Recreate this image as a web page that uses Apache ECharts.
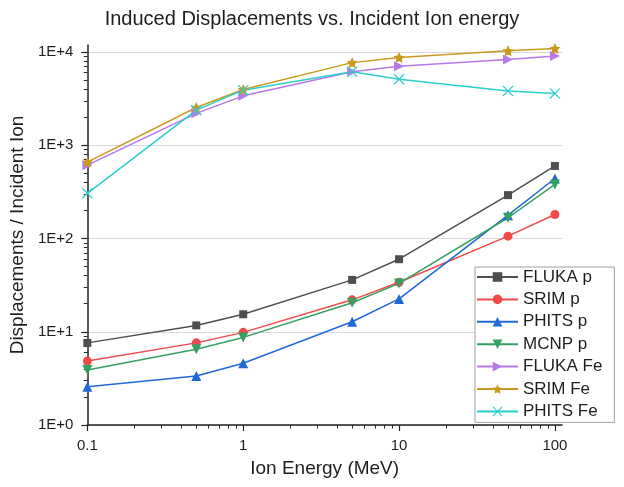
<!DOCTYPE html>
<html>
<head>
<meta charset="utf-8">
<script src="https://cdn.jsdelivr.net/npm/echarts@6/dist/echarts.min.js"></script>
<style>
  html, body { margin: 0; padding: 0; background: #fff; }
  #chart { width: 624px; height: 487px; }
</style>
</head>
<body>
<div id="chart"></div>
<script>
// ion energies (MeV)
const energies = [0.1, 0.5, 1, 5, 10, 50, 100]

const flukaP = [7.6, 11.7, 15.4, 36, 60, 292, 600]
const srimP = [4.85, 7.6, 9.85, 22, 34, 106, 181]
const phitsP = [2.57, 3.35, 4.6, 12.8, 22.5, 178, 440]
const mcnpP = [3.9, 6.5, 8.7, 20.5, 33, 167, 380]
const flukaFe = [612, 2200, 3390, 6150, 7050, 8300, 9050]
const srimFe = [660, 2540, 3960, 7700, 8750, 10300, 10900]
const phitsFe = [305, 2380, 3900, 6150, 5120, 3830, 3600]

const xMajor = [0.1, 1, 10, 100]
const yMajor = [1, 10, 100, 1000, 10000]

const xMinor = []
for (const d of [0.1, 1, 10]) {
  for (let k = 2; k < 10; k++) xMinor.push(+(d * k).toPrecision(3))
}
const yMinor = []
for (const d of [1, 10, 100, 1000]) {
  for (let k = 2; k < 10; k++) yMinor.push(d * k)
}

const starPath = 'path://M0,-10L2.9,-4L9.5,-3.1L4.7,1.5L5.9,8.1L0,5L-5.9,8.1L-4.7,1.5L-9.5,-3.1L-2.9,-4Z'
const crossPath = 'path://M-5,-4.2L-4.2,-5L0,-0.8L4.2,-5L5,-4.2L0.8,0L5,4.2L4.2,5L0,0.8L-4.2,5L-5,4.2L-0.8,0Z'

const seriesDefs = [
  { name: 'FLUKA p', data: flukaP, color: '#4f4f4f', symbol: 'rect', size: 8, rotate: 0 },
  { name: 'SRIM p', data: srimP, color: '#f24a4a', symbol: 'circle', size: 9, rotate: 0 },
  { name: 'PHITS p', data: phitsP, color: '#2168d8', symbol: 'triangle', size: 10, rotate: 0 },
  { name: 'MCNP p', data: mcnpP, color: '#34a062', symbol: 'triangle', size: 10, rotate: 180 },
  { name: 'FLUKA Fe', data: flukaFe, color: '#b878ea', symbol: 'triangle', size: 10, rotate: -90 },
  { name: 'SRIM Fe', data: srimFe, color: '#c99a1e', symbol: starPath, size: 11, rotate: 0 },
  { name: 'PHITS Fe', data: phitsFe, color: '#2ccfcf', symbol: crossPath, size: 11, rotate: 0 },
]

const font = "'Liberation Sans', Arial, sans-serif"
const txt = '#1e1e1e'

const chart = echarts.init(document.getElementById('chart'))

const logAxis = (min, max) => ({
  type: 'log',
  logBase: 10,
  min: min,
  max: max,
})

chart.setOption({
  animation: false,
  backgroundColor: '#fff',
  title: {
    text: 'Induced Displacements vs. Incident Ion energy',
    left: 'center',
    top: 4,
    textStyle: { fontFamily: font, fontSize: 20, fontWeight: 'normal', color: txt },
  },
  grid: { left: 86, right: 62, top: 45, bottom: 62 },
  legend: {
    orient: 'vertical',
    left: 475,
    top: 267,
    padding: [1, 12, 2, 1],
    itemWidth: 41,
    itemHeight: 12,
    itemGap: 4.4,
    backgroundColor: '#fff',
    borderColor: '#a0a0a0',
    borderWidth: 1,
    borderRadius: 0,
    textStyle: { fontFamily: font, fontSize: 17, lineHeight: 18, color: txt },
    data: seriesDefs.map(s => s.name),
  },
  xAxis: [
    Object.assign(logAxis(0.1, 111), {
      name: 'Ion Energy (MeV)',
      nameLocation: 'middle',
      nameGap: 34,
      nameTextStyle: { fontFamily: font, fontSize: 19, color: txt },
      axisLine: { show: true, lineStyle: { color: '#222', width: 1.5 } },
      axisTick: { show: true, length: 6, lineStyle: { color: '#222', width: 1.2 }, customValues: xMajor },
      axisLabel: { fontFamily: font, fontSize: 15, color: txt, margin: 13, customValues: xMajor,
        formatter: v => String(v) },
      splitLine: { show: false },
    }),
    Object.assign(logAxis(0.1, 111), {
      position: 'bottom',
      axisLine: { show: false },
      axisTick: { show: true, length: 3.5, lineStyle: { color: '#222', width: 1 }, customValues: xMinor },
      axisLabel: { show: false },
      splitLine: { show: false },
    }),
  ],
  yAxis: [
    Object.assign(logAxis(1, 11900), {
      name: 'Displacements / Incident Ion',
      nameLocation: 'middle',
      nameGap: 50,
      nameTextStyle: { fontFamily: font, fontSize: 19, color: txt },
      axisLine: { show: true, lineStyle: { color: '#222', width: 1.5 } },
      axisTick: { show: true, length: 6, lineStyle: { color: '#222', width: 1.2 }, customValues: yMajor },
      axisLabel: { fontFamily: font, fontSize: 15, color: txt, margin: 14, customValues: yMajor,
        formatter: v => '1E+' + Math.round(Math.log10(v)) },
      splitLine: { show: true, lineStyle: { color: '#d9d9d9', width: 1.2 } },
    }),
    Object.assign(logAxis(1, 11900), {
      position: 'left',
      axisLine: { show: false },
      axisTick: { show: true, length: 3.5, lineStyle: { color: '#222', width: 1 }, customValues: yMinor },
      axisLabel: { show: false },
      splitLine: { show: false },
    }),
  ],
  series: seriesDefs.map(s => ({
    name: s.name,
    type: 'line',
    data: energies.map((e, i) => [e, s.data[i]]),
    symbol: s.symbol,
    symbolSize: s.size,
    symbolRotate: s.rotate,
    showSymbol: true,
    color: s.color,
    lineStyle: { color: s.color, width: 1.5 },
    itemStyle: { color: s.color },
    z: 3,
  })),
})
</script>
</body>
</html>
